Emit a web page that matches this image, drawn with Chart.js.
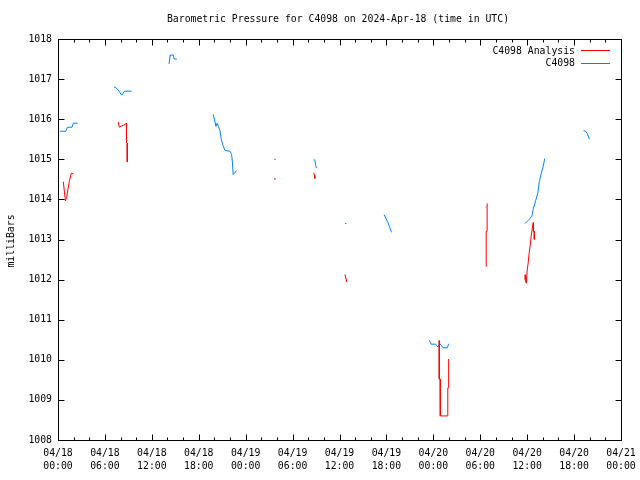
<!DOCTYPE html>
<html>
<head>
<meta charset="utf-8">
<script src="https://cdn.jsdelivr.net/npm/chart.js@4"></script>
<style>
html,body{margin:0;padding:0;background:#fff;}
canvas{display:block;}
</style>
</head>
<body>
<canvas id="c" width="640" height="480"></canvas>
<script>
// Hours since 04/18 00:00 UTC, pressure in milliBars. null = gap.
const stationSeries = [
  [0.25,1015.70],[1.0,1015.70],[1.1,1015.75],[1.2,1015.80],[1.8,1015.80],[1.95,1015.90],[2.5,1015.90],[2.6,null],
  [7.15,1016.80],[7.3,1016.80],[7.6,1016.75],[7.8,1016.70],[8.15,1016.60],[8.35,1016.65],[8.5,1016.70],[9.4,1016.70],[9.5,null],
  [14.2,1017.38],[14.35,1017.60],[14.75,1017.60],[14.85,1017.50],[15.2,1017.50],[15.3,null],
  [19.85,1016.12],[20.0,1016.00],[20.2,1015.82],[20.35,1015.90],[20.5,1015.82],[20.7,1015.73],[20.9,1015.48],[21.1,1015.35],[21.35,1015.22],[22.0,1015.20],[22.2,1015.12],[22.3,1014.95],[22.4,1014.62],[22.6,1014.66],[22.85,1014.72],[23.0,null],
  [27.65,1015.00],[27.85,1015.00],[28.0,null],
  [32.7,1015.00],[32.85,1014.98],[32.95,1014.85],[33.05,1014.78],[33.2,null],
  [36.7,1013.40],[36.9,1013.40],[37.0,null],
  [41.7,1013.62],[42.2,1013.42],[42.65,1013.18],[42.8,null],
  [47.5,1010.49],[47.7,1010.39],[48.3,1010.39],[48.45,1010.35],[48.6,1010.32],[48.85,1010.40],[49.25,1010.30],[49.8,1010.30],[49.95,1010.40],[50.1,null],
  [54.7,1013.80],[54.8,1013.82],[54.9,null],
  [59.75,1013.40],[60.0,1013.45],[60.25,1013.50],[60.6,1013.58],[60.8,1013.78],[61.1,1013.98],[61.35,1014.15],[61.55,1014.44],[61.8,1014.65],[62.05,1014.82],[62.25,1015.02],[62.4,null],
  [67.2,1015.71],[67.5,1015.70],[67.7,1015.64],[67.95,1015.50]
];
const analysisSeries = [
  [0.68,1014.44],[0.95,1013.96],[1.1,1014.05],[1.45,1014.45],[1.7,1014.65],[2.0,1014.63],[2.1,null],
  [7.7,1015.93],[7.85,1015.80],[8.1,1015.83],[8.4,1015.85],[8.65,1015.88],[8.75,1015.90],[8.76,1015.42],[8.85,1015.40],[8.86,1014.93],[9.0,null],
  [27.7,1014.52],[27.75,1014.50],[27.9,null],
  [32.7,1014.66],[32.8,1014.60],[32.85,1014.52],[33.0,null],
  [36.7,1012.13],[36.85,1012.00],[36.9,1011.95],[37.0,null],
  [48.75,1010.48],[48.76,1009.52],[48.88,1009.52],[48.89,1008.60],[49.84,1008.60],[49.85,1009.30],[49.95,1009.30],[49.96,1010.02],[50.1,null],
  [54.75,1012.32],[54.76,1013.20],[54.87,1013.20],[54.88,1013.90],[55.0,null],
  [59.75,1012.12],[59.76,1012.00],[59.88,1011.91],[60.0,1012.22],[60.15,1012.45],[60.25,1012.66],[60.4,1012.86],[60.5,1013.07],[60.65,1013.28],[60.78,1013.42],[60.8,1013.20],[60.9,1013.20],[60.91,1013.00]
];
const xTickDates = ['04/18','04/18','04/18','04/18','04/19','04/19','04/19','04/19','04/20','04/20','04/20','04/20','04/21'];
const xTickTimes = ['00:00','06:00','12:00','18:00','00:00','06:00','12:00','18:00','00:00','06:00','12:00','18:00','00:00'];
const seriesNames = ['C4098 Analysis','C4098'];
const titleText = 'Barometric Pressure for C4098 on 2024-Apr-18 (time in UTC)';
const yAxisLabel = 'milliBars';

const FONT = '"DejaVu Sans Mono", "Liberation Mono", monospace';
const FS = 9.8;
const RED = '#ff0000', BLUE = '#0080ff';

const toPts = a => a.map(p => ({x:p[0], y:p[1]}));

const framePlugin = {
  id:'frame',
  afterDraw(chart){
    const ctx = chart.ctx, a = chart.chartArea;
    const xs = chart.scales.x, ys = chart.scales.y;
    ctx.save();
    ctx.strokeStyle = '#000'; ctx.lineWidth = 1;
    const L = Math.round(a.left)+0.5, R = Math.round(a.right)+0.5, T = Math.round(a.top)+0.5, B = Math.round(a.bottom)+0.5;
    ctx.beginPath();
    for (let h = 0; h <= 72; h += 2) {
      const px = Math.round(xs.getPixelForValue(h))+0.5;
      const len = (h % 6 === 0) ? 6 : 3;
      ctx.moveTo(px, B); ctx.lineTo(px, B-len);
      ctx.moveTo(px, T); ctx.lineTo(px, T+len);
    }
    for (let v = 1008; v <= 1018; v += 1) {
      const py = Math.round(ys.getPixelForValue(v))+0.5;
      ctx.moveTo(L, py); ctx.lineTo(L+6, py);
      ctx.moveTo(R, py); ctx.lineTo(R-6, py);
    }
    ctx.moveTo(L,T); ctx.lineTo(R,T); ctx.lineTo(R,B); ctx.lineTo(L,B); ctx.closePath();
    ctx.stroke();
    // title
    ctx.fillStyle = '#000';
    ctx.font = FS + 'px ' + FONT;
    ctx.textAlign = 'center'; ctx.textBaseline = 'middle';
    ctx.fillText(titleText, 338, 19);
    // y label
    ctx.save();
    ctx.translate(11, 241);
    ctx.rotate(-Math.PI/2);
    ctx.fillText(yAxisLabel, 0, 0);
    ctx.restore();
    // legend
    ctx.textAlign = 'right';
    const cols = [RED, BLUE];
    for (let i = 0; i < 2; i++) {
      const y = 50 + i*12.5;
      ctx.fillStyle = '#000';
      ctx.fillText(seriesNames[i], 575, y+1);
      ctx.strokeStyle = cols[i];
      ctx.beginPath();
      ctx.moveTo(581, Math.round(y)+0.5); ctx.lineTo(610, Math.round(y)+0.5);
      ctx.stroke();
    }
    ctx.restore();
  }
};

new Chart(document.getElementById('c'), {
  type:'line',
  data:{
    datasets:[
      {label:seriesNames[0], data:toPts(analysisSeries), borderColor:RED, borderWidth:1, pointRadius:0, spanGaps:false, tension:0, fill:false},
      {label:seriesNames[1], data:toPts(stationSeries), borderColor:BLUE, borderWidth:1, pointRadius:0, spanGaps:false, tension:0, fill:false}
    ]
  },
  options:{
    responsive:false,
    animation:false,
    events:[],
    layout:{padding:{top:39, right:19, left:0, bottom:0}},
    plugins:{legend:{display:false}, title:{display:false}, tooltip:{enabled:false}},
    scales:{
      x:{
        type:'linear', min:0, max:72,
        grid:{display:false, drawTicks:false},
        border:{display:false},
        afterFit(s){ s.height = 40; s.paddingLeft = 0; s.paddingRight = 0; },
        afterBuildTicks(s){ s.ticks = xTickDates.map((d,i)=>({value:i*6})); },
        ticks:{
          autoSkip:false, maxRotation:0, minRotation:0, padding:7,
          color:'#000', font:{family:FONT, size:FS, lineHeight:1.35},
          callback:(v)=>{ const i = Math.round(v/6); return [xTickDates[i], xTickTimes[i]]; }
        }
      },
      y:{
        type:'linear', min:1008, max:1018,
        grid:{display:false, drawTicks:false},
        border:{display:false},
        afterFit(s){ s.width = 58; s.paddingTop = 0; s.paddingBottom = 0; },
        ticks:{stepSize:1, padding:6, color:'#000', font:{family:FONT, size:FS}, callback:(v)=>String(v)}
      }
    }
  },
  plugins:[framePlugin]
});
</script>
</body>
</html>
